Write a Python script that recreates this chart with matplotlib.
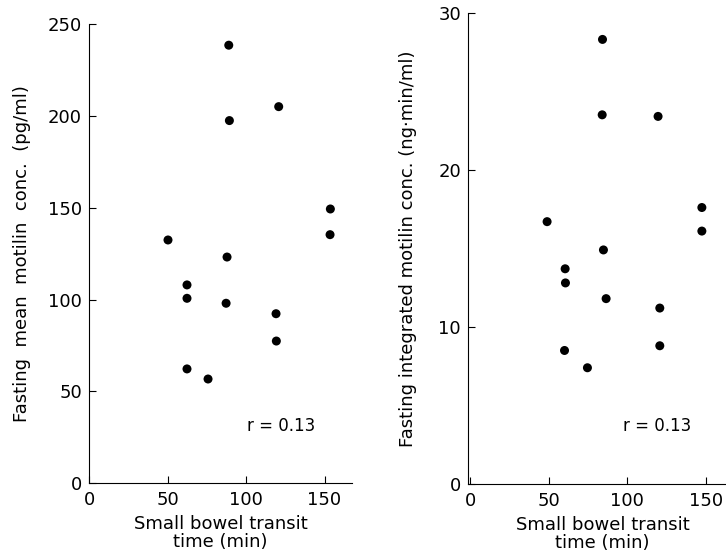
import matplotlib
matplotlib.use('Agg')
import matplotlib.pyplot as plt
import numpy as np

# 左图: 空腹平均胃动素浓度
transit_a = [89.0, 89.4, 120.8, 153.7, 153.5, 50.3, 87.9, 62.4, 62.4, 87.3, 119.1, 119.3, 62.4, 75.8]
mean_conc = [238.7, 197.6, 205.2, 149.4, 135.4, 132.5, 123.2, 108.0, 100.7, 98.0, 92.3, 77.4, 62.2, 56.7]

# 右图: 空腹积分胃动素浓度
transit_b = [84.2, 84.0, 119.6, 147.5, 147.5, 48.9, 84.8, 60.4, 60.6, 86.5, 120.7, 60.0, 120.7, 74.6]
integ_conc = [28.3, 23.5, 23.4, 17.6, 16.1, 16.7, 14.9, 13.7, 12.8, 11.8, 11.2, 8.5, 8.8, 7.4]

x_ticks = [0, 50, 100, 150]
y_ticks_a = [0, 50, 100, 150, 200, 250]
y_ticks_b = [0, 10, 20, 30]

plt.rcParams['font.family'] = ['DejaVu Sans']
plt.rcParams['font.size'] = 12

fig = plt.figure(figsize=(7.26, 5.60), dpi=100)
ax1 = fig.add_axes([0.1226, 0.1375, 0.3623, 0.8188])
ax2 = fig.add_axes([0.6446, 0.1357, 0.3708, 0.8416])


def style(ax, yticks):
    for s in ['top', 'right']:
        ax.spines[s].set_visible(False)
    for s in ['left', 'bottom']:
        ax.spines[s].set_linewidth(0.8)
    ax.set_xticks(x_ticks)
    ax.set_yticks(yticks)
    ax.tick_params(direction='in', length=5, width=0.8, labelsize=13)
    ax.tick_params(axis='x', pad=6)
    ax.tick_params(axis='y', pad=5)
    ax.set_xlabel('Small bowel transit\ntime (min)', fontsize=13, labelpad=4, linespacing=1.0)


ax1.scatter(transit_a, mean_conc, s=42, color='black', edgecolors='none', clip_on=False)
ax1.set_xlim(0, 167.5)
ax1.set_ylim(0, 250)
style(ax1, y_ticks_a)
ax1.set_ylabel('Fasting  mean  motilin  conc.  (pg/ml)', fontsize=13, labelpad=12)
ax1.text(100.6, 31, 'r = 0.13', fontsize=12, va='center', ha='left')

ax2.scatter(transit_b, integ_conc, s=42, color='black', edgecolors='none', clip_on=False)
ax2.set_xlim(-1.5, 170)
ax2.set_ylim(0, 30)
style(ax2, y_ticks_b)
ax2.set_ylabel('Fasting integrated motilin conc. (ng·min/ml)', fontsize=13, labelpad=15)
ax2.text(97, 3.7, 'r = 0.13', fontsize=12, va='center', ha='left')

fig.savefig('out.png', dpi=100)
